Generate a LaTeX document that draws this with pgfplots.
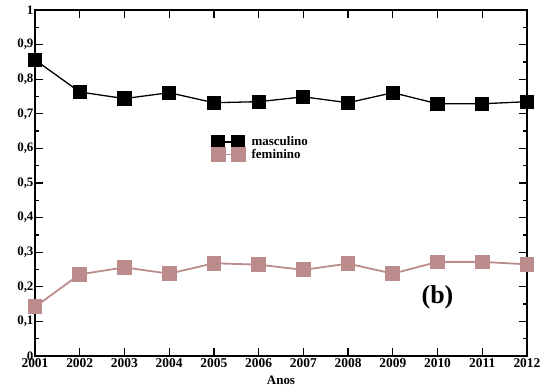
\documentclass[border=0pt]{standalone}
\usepackage{pgfplots}
\pgfplotsset{compat=1.18}
\usepackage{fontspec}
\setmainfont{Liberation Serif}
\definecolor{fem}{RGB}{188,140,140}
\begin{document}
\begin{tikzpicture}
\begin{axis}[
  name=ax,
  scale only axis, width=492bp, height=346bp,
  xmin=2001, xmax=2012, ymin=0, ymax=1,
  xtick={2001,...,2012}, ytick={0,0.1,...,1.0},
  minor x tick num=1, minor y tick num=1,
  tick align=inside, axis line style={line width=1.8pt},
  major tick length=8bp, minor tick length=4bp,
  every tick/.style={black, line width=1.3pt},
  xticklabel style={/pgf/number format/1000 sep={}, font=\bfseries\fontsize{13.5}{13.5}\selectfont, yshift=0.5pt},
  yticklabel style={/pgf/number format/.cd, use comma, fixed, fixed zerofill=false, precision=1, /tikz/.cd, font=\bfseries\fontsize{13}{13}\selectfont, xshift=2pt},
  /pgf/number format/assume math mode=true,
  xlabel={Anos}, xlabel style={font=\bfseries\fontsize{13}{13}\selectfont, yshift=-1pt},
  legend style={draw=none, fill=none, at={(0.359,0.64)}, anchor=north west, font=\bfseries\fontsize{13}{13}\selectfont, row sep=-2pt, inner sep=0pt, nodes={inner sep=2pt}},
  legend cell align=left,
  legend image code/.code={\draw[#1, mark size=6.5pt] plot coordinates {(6.5pt,0pt) (26.5pt,0pt)};},
  clip=false,
]
\addplot[black, line width=1.3pt, mark=square*, mark size=6.5pt, mark options={solid}] coordinates {
(2001,0.856) (2002,0.763) (2003,0.744) (2004,0.761) (2005,0.732) (2006,0.735)
(2007,0.749) (2008,0.732) (2009,0.761) (2010,0.729) (2011,0.729) (2012,0.735)};
\addlegendentry{\hspace{5pt}masculino}
\addplot[fem, line width=1.8pt, mark=square*, mark size=6.5pt, mark options={solid}] coordinates {
(2001,0.142) (2002,0.236) (2003,0.256) (2004,0.238) (2005,0.268) (2006,0.264)
(2007,0.249) (2008,0.267) (2009,0.238) (2010,0.272) (2011,0.272) (2012,0.265)};
\addlegendentry{\hspace{5pt}feminino}
\node[font=\bfseries\fontsize{26}{26}\selectfont] at (axis cs:2010.0,0.17) {(b)};
\end{axis}
\useasboundingbox ([shift={(-35bp,-35bp)}]ax.south west) rectangle ([shift={(25bp,10bp)}]ax.north east);
\end{tikzpicture}
\end{document}
